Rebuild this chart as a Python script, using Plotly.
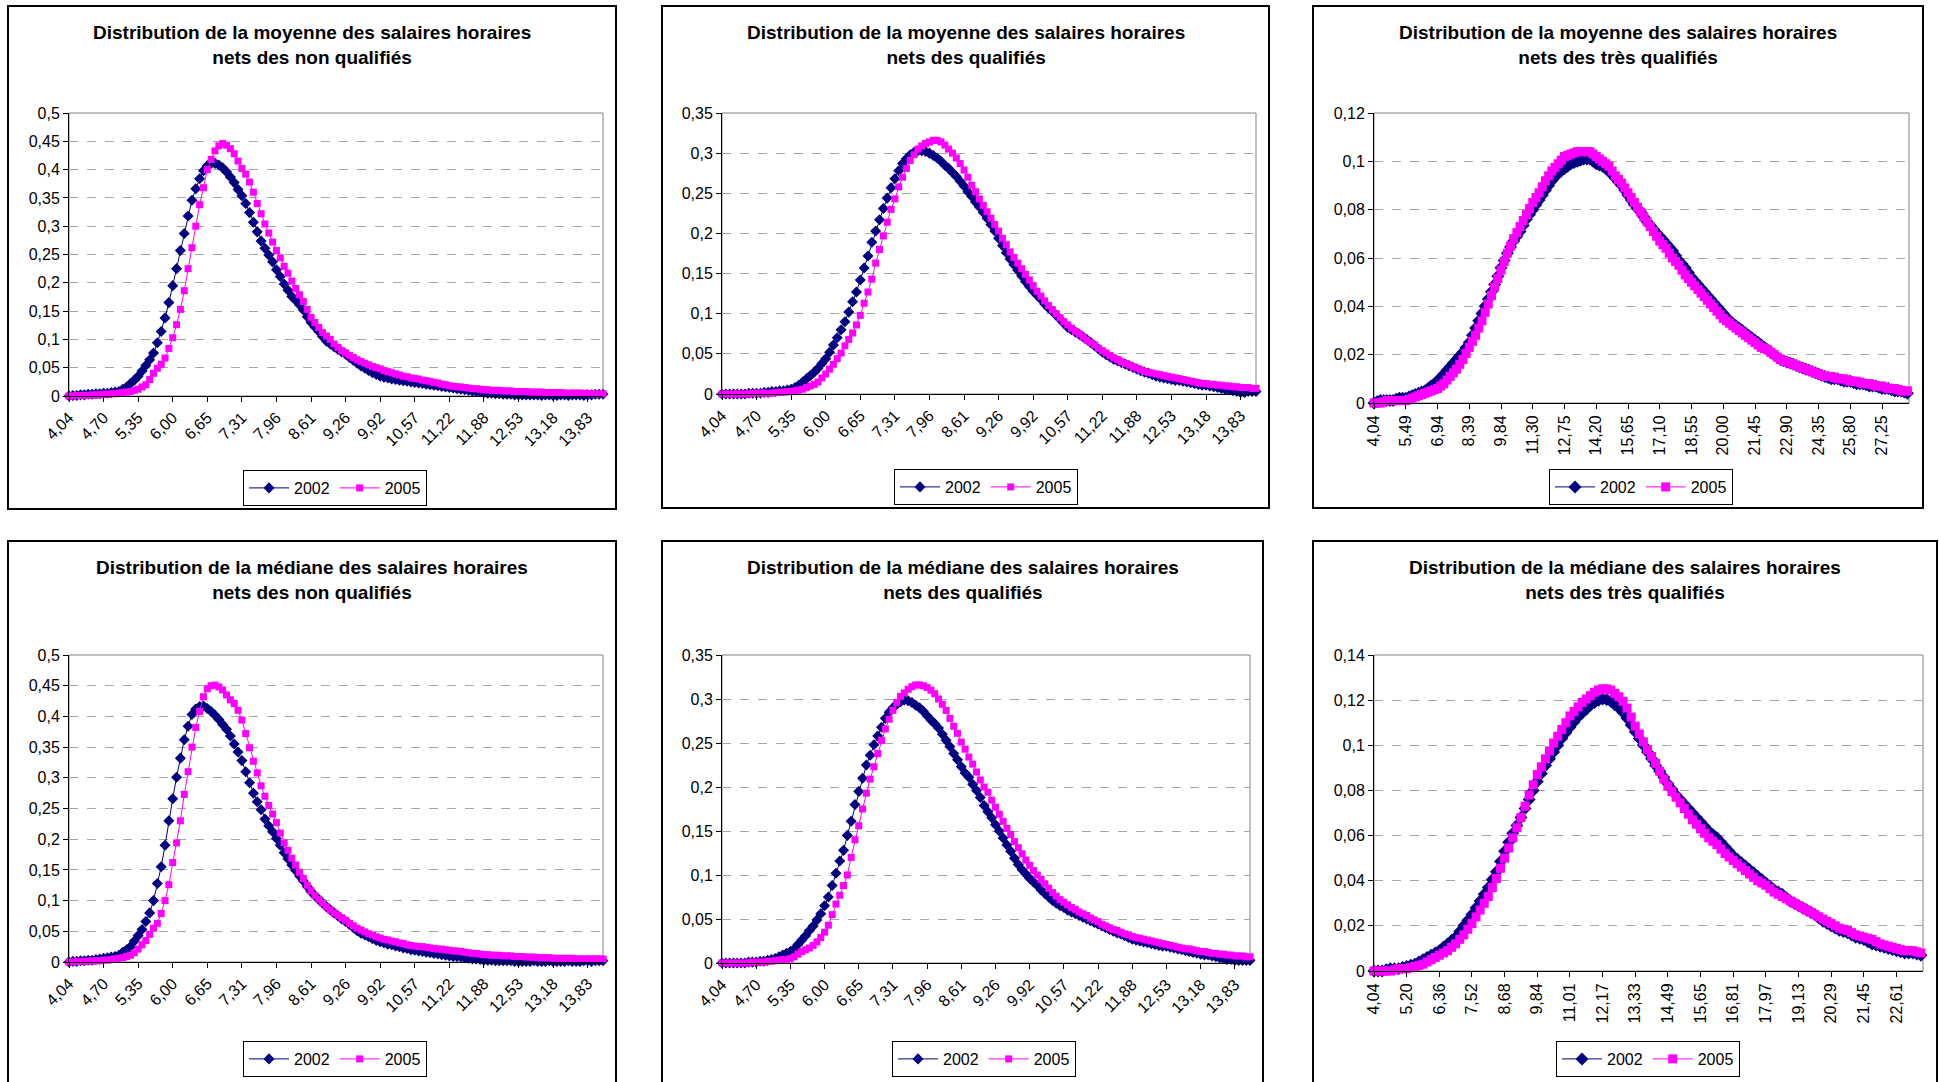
import plotly.graph_objects as go

W, H = 1939, 1082
FONT = "Liberation Sans, Arial, sans-serif"
NAVY = "#000080"
MAGENTA = "#FF00FF"

# ---------------- tick labels (category axis) ----------------
LABELS_A = ["4,04", "4,70", "5,35", "6,00", "6,65", "7,31", "7,96", "8,61", "9,26",
            "9,92", "10,57", "11,22", "11,88", "12,53", "13,18", "13,83"]
LABELS_C1 = ["4,04", "5,49", "6,94", "8,39", "9,84", "11,30", "12,75", "14,20", "15,65",
             "17,10", "18,55", "20,00", "21,45", "22,90", "24,35", "25,80", "27,25"]
LABELS_C2 = ["4,04", "5,20", "6,36", "7,52", "8,68", "9,84", "11,01", "12,17", "13,33",
             "14,49", "15,65", "16,81", "17,97", "19,13", "20,29", "21,45", "22,61"]

# ---------------- series (one value per category) ----------------
MOY_NQ_2002 = [
    0.000, 0.001, 0.001, 0.002, 0.002, 0.003, 0.003, 0.004, 0.004, 0.005,
    0.005, 0.006, 0.007, 0.008, 0.012, 0.016, 0.022, 0.028, 0.035, 0.044,
    0.054, 0.064, 0.076, 0.094, 0.114, 0.138, 0.165, 0.195, 0.225, 0.257,
    0.287, 0.318, 0.346, 0.366, 0.384, 0.398, 0.407, 0.411, 0.411, 0.408,
    0.403, 0.396, 0.387, 0.377, 0.365, 0.354, 0.340, 0.324, 0.307, 0.290,
    0.274, 0.261, 0.249, 0.237, 0.223, 0.211, 0.198, 0.187, 0.176, 0.169,
    0.161, 0.152, 0.140, 0.130, 0.122, 0.114, 0.105, 0.097, 0.092, 0.087,
    0.082, 0.078, 0.074, 0.068, 0.063, 0.058, 0.053, 0.049, 0.045, 0.041,
    0.038, 0.035, 0.033, 0.032, 0.030, 0.029, 0.028, 0.027, 0.026, 0.025,
    0.024, 0.023, 0.022, 0.021, 0.020, 0.019, 0.018, 0.017, 0.016, 0.015,
    0.014, 0.013, 0.012, 0.011, 0.010, 0.009, 0.008, 0.007, 0.006, 0.005,
    0.005, 0.004, 0.004, 0.003, 0.003, 0.003, 0.002, 0.002, 0.002, 0.002,
    0.002, 0.002, 0.002, 0.001, 0.002, 0.002, 0.001, 0.001, 0.002, 0.002,
    0.001, 0.002, 0.002, 0.002, 0.001, 0.002, 0.002, 0.003, 0.003, 0.003]
MOY_NQ_2005 = [
    0.000, 0.000, 0.001, 0.001, 0.001, 0.001, 0.002, 0.002, 0.002, 0.003,
    0.003, 0.004, 0.004, 0.005, 0.006, 0.007, 0.008, 0.010, 0.012, 0.016,
    0.020, 0.029, 0.040, 0.049, 0.056, 0.067, 0.084, 0.103, 0.126, 0.153,
    0.186, 0.225, 0.262, 0.300, 0.338, 0.368, 0.400, 0.418, 0.433, 0.442,
    0.446, 0.443, 0.437, 0.428, 0.415, 0.402, 0.392, 0.378, 0.360, 0.340,
    0.322, 0.304, 0.288, 0.272, 0.257, 0.244, 0.229, 0.217, 0.203, 0.190,
    0.179, 0.167, 0.153, 0.139, 0.130, 0.121, 0.112, 0.106, 0.100, 0.092,
    0.086, 0.080, 0.076, 0.072, 0.068, 0.064, 0.061, 0.058, 0.055, 0.052,
    0.050, 0.048, 0.045, 0.043, 0.041, 0.039, 0.037, 0.035, 0.034, 0.032,
    0.031, 0.030, 0.028, 0.027, 0.026, 0.024, 0.023, 0.021, 0.020, 0.018,
    0.017, 0.016, 0.016, 0.015, 0.014, 0.013, 0.013, 0.012, 0.011, 0.011,
    0.010, 0.010, 0.010, 0.009, 0.009, 0.009, 0.008, 0.008, 0.008, 0.008,
    0.007, 0.007, 0.007, 0.007, 0.006, 0.006, 0.006, 0.006, 0.006, 0.005,
    0.005, 0.005, 0.005, 0.005, 0.005, 0.004, 0.004, 0.004, 0.004, 0.004]

MOY_Q_2002 = [
    0.000, 0.000, 0.000, 0.000, 0.000, 0.000, 0.000, 0.001, 0.001, 0.001,
    0.001, 0.002, 0.002, 0.003, 0.003, 0.004, 0.004, 0.005, 0.006, 0.008,
    0.011, 0.015, 0.019, 0.023, 0.027, 0.032, 0.038, 0.044, 0.052, 0.061,
    0.070, 0.080, 0.090, 0.102, 0.115, 0.127, 0.142, 0.157, 0.172, 0.189,
    0.203, 0.217, 0.231, 0.244, 0.257, 0.268, 0.278, 0.287, 0.293, 0.298,
    0.301, 0.303, 0.303, 0.302, 0.300, 0.297, 0.294, 0.290, 0.285, 0.281,
    0.276, 0.271, 0.265, 0.259, 0.252, 0.246, 0.239, 0.233, 0.226, 0.219,
    0.211, 0.203, 0.194, 0.185, 0.176, 0.168, 0.161, 0.154, 0.147, 0.140,
    0.134, 0.128, 0.123, 0.118, 0.112, 0.107, 0.103, 0.098, 0.093, 0.088,
    0.083, 0.080, 0.077, 0.074, 0.071, 0.068, 0.064, 0.060, 0.056, 0.052,
    0.049, 0.046, 0.043, 0.041, 0.039, 0.037, 0.035, 0.033, 0.031, 0.029,
    0.027, 0.026, 0.024, 0.022, 0.021, 0.020, 0.019, 0.018, 0.017, 0.017,
    0.016, 0.015, 0.014, 0.013, 0.012, 0.011, 0.011, 0.010, 0.009, 0.008,
    0.007, 0.006, 0.005, 0.004, 0.003, 0.002, 0.002, 0.003, 0.003, 0.003]
MOY_Q_2005 = [
    0.000, 0.000, 0.000, 0.000, 0.000, 0.000, 0.000, 0.000, 0.001, 0.001,
    0.001, 0.001, 0.001, 0.001, 0.002, 0.002, 0.002, 0.003, 0.003, 0.004,
    0.005, 0.006, 0.008, 0.010, 0.012, 0.015, 0.020, 0.025, 0.031, 0.037,
    0.044, 0.051, 0.060, 0.068, 0.076, 0.086, 0.098, 0.113, 0.127, 0.143,
    0.163, 0.180, 0.197, 0.214, 0.230, 0.243, 0.258, 0.270, 0.281, 0.291,
    0.298, 0.305, 0.309, 0.312, 0.314, 0.316, 0.316, 0.314, 0.310, 0.305,
    0.300, 0.294, 0.287, 0.279, 0.270, 0.260, 0.252, 0.243, 0.235, 0.227,
    0.219, 0.211, 0.203, 0.194, 0.186, 0.177, 0.170, 0.163, 0.156, 0.149,
    0.142, 0.135, 0.128, 0.122, 0.116, 0.110, 0.105, 0.100, 0.095, 0.090,
    0.086, 0.082, 0.078, 0.075, 0.071, 0.067, 0.064, 0.061, 0.057, 0.054,
    0.051, 0.048, 0.045, 0.043, 0.040, 0.038, 0.036, 0.034, 0.032, 0.030,
    0.028, 0.027, 0.026, 0.025, 0.024, 0.023, 0.022, 0.021, 0.020, 0.019,
    0.018, 0.017, 0.016, 0.015, 0.014, 0.013, 0.013, 0.012, 0.012, 0.011,
    0.011, 0.010, 0.010, 0.009, 0.009, 0.008, 0.008, 0.008, 0.007, 0.007]

# très qualifiés: one value every 2nd category
MOY_TQ_2002 = [
    0.0000, 0.0005, 0.0010, 0.0010, 0.0010, 0.0010, 0.0010, 0.0015, 0.0020, 0.0020,
    0.0020, 0.0025, 0.0030, 0.0035, 0.0040, 0.0045, 0.0050, 0.0060, 0.0070, 0.0080,
    0.0090, 0.0105, 0.0120, 0.0135, 0.0150, 0.0165, 0.0180, 0.0195, 0.0210, 0.0230,
    0.0250, 0.0280, 0.0310, 0.0340, 0.0370, 0.0400, 0.0430, 0.0460, 0.0490, 0.0525,
    0.0560, 0.0590, 0.0620, 0.0645, 0.0670, 0.0690, 0.0710, 0.0735, 0.0760, 0.0780,
    0.0800, 0.0820, 0.0840, 0.0860, 0.0880, 0.0900, 0.0920, 0.0935, 0.0950, 0.0960,
    0.0970, 0.0980, 0.0990, 0.0995, 0.1000, 0.1005, 0.1010, 0.1010, 0.1010, 0.1000,
    0.0990, 0.0985, 0.0980, 0.0970, 0.0960, 0.0945, 0.0930, 0.0915, 0.0900, 0.0880,
    0.0860, 0.0840, 0.0820, 0.0805, 0.0790, 0.0770, 0.0750, 0.0735, 0.0720, 0.0705,
    0.0690, 0.0675, 0.0660, 0.0645, 0.0630, 0.0610, 0.0590, 0.0575, 0.0560, 0.0540,
    0.0520, 0.0505, 0.0490, 0.0475, 0.0460, 0.0445, 0.0430, 0.0415, 0.0400, 0.0385,
    0.0370, 0.0355, 0.0340, 0.0330, 0.0320, 0.0310, 0.0300, 0.0290, 0.0280, 0.0270,
    0.0260, 0.0250, 0.0240, 0.0230, 0.0220, 0.0210, 0.0200, 0.0190, 0.0180, 0.0175,
    0.0170, 0.0165, 0.0160, 0.0155, 0.0150, 0.0145, 0.0140, 0.0135, 0.0130, 0.0125,
    0.0120, 0.0115, 0.0110, 0.0105, 0.0100, 0.0100, 0.0100, 0.0095, 0.0090, 0.0090,
    0.0090, 0.0085, 0.0080, 0.0080, 0.0080, 0.0075, 0.0070, 0.0070, 0.0070, 0.0065,
    0.0060, 0.0060, 0.0060, 0.0055, 0.0050, 0.0050, 0.0050, 0.0045, 0.0040]
MOY_TQ_2005 = [
    0.0000, 0.0000, 0.0000, 0.0005, 0.0010, 0.0010, 0.0010, 0.0010, 0.0010, 0.0010,
    0.0010, 0.0015, 0.0020, 0.0025, 0.0030, 0.0035, 0.0040, 0.0045, 0.0050, 0.0055,
    0.0060, 0.0070, 0.0080, 0.0095, 0.0110, 0.0125, 0.0140, 0.0160, 0.0180, 0.0205,
    0.0230, 0.0255, 0.0280, 0.0310, 0.0340, 0.0375, 0.0410, 0.0445, 0.0480, 0.0515,
    0.0550, 0.0585, 0.0620, 0.0650, 0.0680, 0.0705, 0.0730, 0.0755, 0.0780, 0.0805,
    0.0830, 0.0850, 0.0870, 0.0895, 0.0920, 0.0940, 0.0960, 0.0975, 0.0990, 0.1005,
    0.1020, 0.1025, 0.1030, 0.1035, 0.1040, 0.1040, 0.1040, 0.1040, 0.1040, 0.1030,
    0.1020, 0.1010, 0.1000, 0.0990, 0.0980, 0.0960, 0.0940, 0.0925, 0.0910, 0.0890,
    0.0870, 0.0850, 0.0830, 0.0810, 0.0790, 0.0770, 0.0750, 0.0730, 0.0710, 0.0690,
    0.0670, 0.0655, 0.0640, 0.0620, 0.0600, 0.0585, 0.0570, 0.0550, 0.0530, 0.0515,
    0.0500, 0.0485, 0.0470, 0.0455, 0.0440, 0.0425, 0.0410, 0.0395, 0.0380, 0.0365,
    0.0350, 0.0340, 0.0330, 0.0320, 0.0310, 0.0300, 0.0290, 0.0280, 0.0270, 0.0260,
    0.0250, 0.0240, 0.0230, 0.0225, 0.0220, 0.0210, 0.0200, 0.0190, 0.0180, 0.0175,
    0.0170, 0.0165, 0.0160, 0.0155, 0.0150, 0.0145, 0.0140, 0.0135, 0.0130, 0.0125,
    0.0120, 0.0115, 0.0110, 0.0110, 0.0110, 0.0105, 0.0100, 0.0100, 0.0100, 0.0095,
    0.0090, 0.0090, 0.0090, 0.0085, 0.0080, 0.0080, 0.0080, 0.0075, 0.0070, 0.0070,
    0.0070, 0.0065, 0.0060, 0.0060, 0.0060, 0.0055, 0.0050, 0.0050, 0.0050]

MED_NQ_2002 = [
    0.000, 0.001, 0.001, 0.002, 0.002, 0.003, 0.003, 0.004, 0.005, 0.006,
    0.007, 0.008, 0.009, 0.011, 0.016, 0.020, 0.025, 0.034, 0.043, 0.053,
    0.066, 0.080, 0.100, 0.128, 0.155, 0.190, 0.230, 0.266, 0.301, 0.332,
    0.362, 0.384, 0.403, 0.412, 0.416, 0.417, 0.413, 0.408, 0.402, 0.395,
    0.387, 0.379, 0.368, 0.355, 0.342, 0.328, 0.310, 0.292, 0.275, 0.261,
    0.248, 0.233, 0.222, 0.212, 0.201, 0.190, 0.178, 0.168, 0.158, 0.149,
    0.140, 0.132, 0.123, 0.115, 0.108, 0.102, 0.096, 0.090, 0.085, 0.080,
    0.075, 0.070, 0.066, 0.061, 0.056, 0.051, 0.047, 0.044, 0.041, 0.038,
    0.035, 0.033, 0.031, 0.029, 0.028, 0.026, 0.025, 0.023, 0.022, 0.020,
    0.019, 0.018, 0.017, 0.016, 0.015, 0.014, 0.013, 0.012, 0.011, 0.010,
    0.009, 0.009, 0.008, 0.007, 0.006, 0.005, 0.005, 0.004, 0.003, 0.003,
    0.003, 0.002, 0.002, 0.002, 0.002, 0.002, 0.001, 0.001, 0.001, 0.001,
    0.001, 0.002, 0.001, 0.001, 0.001, 0.002, 0.001, 0.001, 0.001, 0.001,
    0.002, 0.001, 0.001, 0.001, 0.002, 0.002, 0.001, 0.002, 0.002, 0.002]
MED_NQ_2005 = [
    0.000, 0.000, 0.001, 0.001, 0.001, 0.001, 0.002, 0.002, 0.002, 0.003,
    0.003, 0.004, 0.005, 0.006, 0.007, 0.009, 0.011, 0.015, 0.021, 0.028,
    0.035, 0.045, 0.055, 0.063, 0.079, 0.100, 0.126, 0.162, 0.194, 0.230,
    0.273, 0.310, 0.350, 0.382, 0.408, 0.432, 0.445, 0.450, 0.451, 0.448,
    0.443, 0.435, 0.427, 0.421, 0.410, 0.394, 0.372, 0.349, 0.327, 0.308,
    0.287, 0.270, 0.255, 0.241, 0.227, 0.210, 0.194, 0.182, 0.169, 0.158,
    0.146, 0.136, 0.125, 0.116, 0.108, 0.102, 0.096, 0.090, 0.085, 0.080,
    0.076, 0.072, 0.068, 0.063, 0.059, 0.055, 0.052, 0.049, 0.046, 0.044,
    0.041, 0.039, 0.037, 0.036, 0.034, 0.033, 0.031, 0.030, 0.028, 0.027,
    0.026, 0.025, 0.025, 0.024, 0.023, 0.022, 0.021, 0.021, 0.020, 0.019,
    0.018, 0.018, 0.017, 0.016, 0.015, 0.014, 0.014, 0.013, 0.012, 0.012,
    0.011, 0.011, 0.011, 0.010, 0.010, 0.010, 0.009, 0.009, 0.009, 0.008,
    0.008, 0.008, 0.007, 0.007, 0.007, 0.007, 0.006, 0.006, 0.006, 0.006,
    0.006, 0.006, 0.005, 0.005, 0.005, 0.005, 0.005, 0.005, 0.005, 0.005]

MED_Q_2002 = [
    0.000, 0.000, 0.000, 0.000, 0.000, 0.000, 0.000, 0.001, 0.001, 0.001,
    0.002, 0.002, 0.003, 0.004, 0.005, 0.007, 0.009, 0.011, 0.013, 0.016,
    0.021, 0.026, 0.031, 0.037, 0.042, 0.049, 0.056, 0.065, 0.075, 0.088,
    0.102, 0.116, 0.128, 0.145, 0.161, 0.180, 0.195, 0.210, 0.225, 0.236,
    0.248, 0.258, 0.268, 0.278, 0.285, 0.290, 0.294, 0.297, 0.299, 0.298,
    0.296, 0.293, 0.290, 0.286, 0.281, 0.276, 0.272, 0.267, 0.260, 0.253,
    0.246, 0.238, 0.231, 0.223, 0.216, 0.211, 0.203, 0.196, 0.188, 0.179,
    0.172, 0.165, 0.157, 0.150, 0.142, 0.134, 0.127, 0.119, 0.112, 0.106,
    0.101, 0.096, 0.092, 0.088, 0.083, 0.079, 0.075, 0.071, 0.068, 0.065,
    0.063, 0.060, 0.058, 0.056, 0.054, 0.052, 0.050, 0.048, 0.046, 0.044,
    0.042, 0.040, 0.038, 0.036, 0.034, 0.033, 0.031, 0.029, 0.027, 0.026,
    0.025, 0.024, 0.023, 0.022, 0.021, 0.020, 0.019, 0.019, 0.018, 0.017,
    0.016, 0.015, 0.014, 0.013, 0.012, 0.011, 0.010, 0.009, 0.009, 0.008,
    0.007, 0.006, 0.005, 0.004, 0.004, 0.003, 0.003, 0.003, 0.003, 0.003]
MED_Q_2005 = [
    0.000, 0.000, 0.000, 0.000, 0.000, 0.000, 0.000, 0.000, 0.001, 0.001,
    0.001, 0.001, 0.002, 0.002, 0.003, 0.003, 0.004, 0.004, 0.005, 0.007,
    0.010, 0.013, 0.015, 0.017, 0.020, 0.024, 0.029, 0.035, 0.043, 0.055,
    0.067, 0.077, 0.088, 0.100, 0.120, 0.140, 0.156, 0.175, 0.193, 0.209,
    0.223, 0.238, 0.253, 0.266, 0.277, 0.287, 0.296, 0.303, 0.307, 0.311,
    0.314, 0.316, 0.316, 0.315, 0.313, 0.310, 0.306, 0.300, 0.294, 0.287,
    0.278, 0.269, 0.261, 0.251, 0.243, 0.234, 0.226, 0.217, 0.208, 0.200,
    0.194, 0.185, 0.177, 0.169, 0.161, 0.153, 0.146, 0.138, 0.131, 0.124,
    0.117, 0.111, 0.105, 0.100, 0.095, 0.090, 0.085, 0.080, 0.076, 0.072,
    0.069, 0.066, 0.063, 0.061, 0.058, 0.056, 0.054, 0.051, 0.049, 0.047,
    0.044, 0.042, 0.040, 0.038, 0.037, 0.035, 0.033, 0.032, 0.030, 0.029,
    0.028, 0.027, 0.026, 0.025, 0.024, 0.023, 0.022, 0.021, 0.020, 0.019,
    0.018, 0.017, 0.016, 0.016, 0.015, 0.014, 0.013, 0.013, 0.012, 0.011,
    0.011, 0.010, 0.010, 0.009, 0.009, 0.008, 0.008, 0.008, 0.007, 0.007]

MED_TQ_2002 = [
    0.0000, 0.0000, 0.0000, 0.0005, 0.0010, 0.0010, 0.0010, 0.0015, 0.0020, 0.0025,
    0.0030, 0.0040, 0.0050, 0.0060, 0.0070, 0.0080, 0.0090, 0.0105, 0.0120, 0.0135,
    0.0150, 0.0175, 0.0200, 0.0225, 0.0250, 0.0280, 0.0310, 0.0340, 0.0370, 0.0405,
    0.0440, 0.0485, 0.0530, 0.0570, 0.0610, 0.0645, 0.0680, 0.0720, 0.0760, 0.0800,
    0.0840, 0.0875, 0.0910, 0.0940, 0.0970, 0.1000, 0.1030, 0.1055, 0.1080, 0.1103,
    0.1125, 0.1143, 0.1160, 0.1177, 0.1190, 0.1200, 0.1205, 0.1203, 0.1195, 0.1180,
    0.1165, 0.1145, 0.1120, 0.1090, 0.1060, 0.1030, 0.1000, 0.0970, 0.0940, 0.0910,
    0.0885, 0.0858, 0.0830, 0.0805, 0.0780, 0.0760, 0.0740, 0.0720, 0.0700, 0.0680,
    0.0660, 0.0640, 0.0620, 0.0605, 0.0590, 0.0570, 0.0550, 0.0530, 0.0510, 0.0495,
    0.0480, 0.0465, 0.0450, 0.0435, 0.0420, 0.0405, 0.0390, 0.0375, 0.0360, 0.0350,
    0.0340, 0.0325, 0.0310, 0.0300, 0.0290, 0.0280, 0.0270, 0.0260, 0.0250, 0.0235,
    0.0220, 0.0210, 0.0200, 0.0190, 0.0180, 0.0175, 0.0170, 0.0160, 0.0150, 0.0145,
    0.0140, 0.0130, 0.0120, 0.0115, 0.0110, 0.0105, 0.0100, 0.0095, 0.0090, 0.0085,
    0.0080, 0.0080, 0.0080, 0.0075, 0.0070]
MED_TQ_2005 = [
    0.0000, 0.0000, 0.0000, 0.0000, 0.0000, 0.0005, 0.0010, 0.0010, 0.0010, 0.0015,
    0.0020, 0.0025, 0.0030, 0.0040, 0.0050, 0.0060, 0.0070, 0.0080, 0.0090, 0.0105,
    0.0120, 0.0140, 0.0160, 0.0185, 0.0210, 0.0240, 0.0270, 0.0300, 0.0330, 0.0370,
    0.0410, 0.0455, 0.0500, 0.0545, 0.0590, 0.0635, 0.0680, 0.0730, 0.0780, 0.0825,
    0.0870, 0.0905, 0.0940, 0.0975, 0.1010, 0.1040, 0.1070, 0.1100, 0.1130, 0.1150,
    0.1170, 0.1190, 0.1205, 0.1220, 0.1235, 0.1245, 0.1250, 0.1250, 0.1245, 0.1230,
    0.1215, 0.1195, 0.1165, 0.1125, 0.1085, 0.1050, 0.1015, 0.0980, 0.0950, 0.0920,
    0.0885, 0.0850, 0.0820, 0.0795, 0.0770, 0.0745, 0.0720, 0.0695, 0.0670, 0.0650,
    0.0630, 0.0610, 0.0590, 0.0575, 0.0560, 0.0540, 0.0520, 0.0505, 0.0490, 0.0475,
    0.0460, 0.0445, 0.0430, 0.0415, 0.0400, 0.0390, 0.0380, 0.0365, 0.0350, 0.0340,
    0.0330, 0.0320, 0.0310, 0.0300, 0.0290, 0.0280, 0.0270, 0.0260, 0.0250, 0.0240,
    0.0230, 0.0220, 0.0210, 0.0200, 0.0190, 0.0185, 0.0180, 0.0170, 0.0160, 0.0155,
    0.0150, 0.0145, 0.0140, 0.0130, 0.0120, 0.0115, 0.0110, 0.0105, 0.0100, 0.0095,
    0.0090, 0.0090, 0.0090, 0.0085, 0.0080]

TITLES = [
    "Distribution de la moyenne des salaires horaires<br>nets des non qualifiés",
    "Distribution de la moyenne des salaires horaires<br>nets des qualifiés",
    "Distribution de la moyenne des salaires horaires<br>nets des très qualifiés",
    "Distribution de la médiane des salaires horaires<br>nets des non qualifiés",
    "Distribution de la médiane des salaires horaires<br>nets des qualifiés",
    "Distribution de la médiane des salaires horaires<br>nets des très qualifiés",
]
YEARS = ["2002", "2005"]

# ---------------- panel layout (pixels) ----------------
panels = [
    dict(y=(MOY_NQ_2002, MOY_NQ_2005), labels=LABELS_A, every=9, ncat=140, step=1,
         ymax=0.5, dtick=0.05, angle=-45, plot=(69, 113, 603, 396),
         box=(8, 6, 616, 509), title_y=45, leg=(335, 488), ms=(8.5, 7)),
    dict(y=(MOY_Q_2002, MOY_Q_2005), labels=LABELS_A, every=9, ncat=140, step=1,
         ymax=0.35, dtick=0.05, angle=-45, plot=(722, 113, 1256, 394),
         box=(662, 6, 1269, 508), title_y=45, leg=(986, 487), ms=(8.5, 7)),
    dict(y=(MOY_TQ_2002, MOY_TQ_2005), labels=LABELS_C1, every=20, ncat=338, step=2,
         ymax=0.12, dtick=0.02, angle=-90, plot=(1374, 113, 1909, 403),
         box=(1313, 6, 1923, 508), title_y=45, leg=(1641, 487), ms=(10, 9)),
    dict(y=(MED_NQ_2002, MED_NQ_2005), labels=LABELS_A, every=9, ncat=140, step=1,
         ymax=0.5, dtick=0.05, angle=-45, plot=(69, 655, 603, 962),
         box=(8, 541, 616, 1100), title_y=580, leg=(335, 1059), ms=(8.5, 7)),
    dict(y=(MED_Q_2002, MED_Q_2005), labels=LABELS_A, every=9, ncat=140, step=1,
         ymax=0.35, dtick=0.05, angle=-45, plot=(722, 655, 1250, 963),
         box=(662, 541, 1263, 1100), title_y=580, leg=(984, 1059), ms=(8.5, 7)),
    dict(y=(MED_TQ_2002, MED_TQ_2005), labels=LABELS_C2, every=16, ncat=270, step=2,
         ymax=0.14, dtick=0.02, angle=-90, plot=(1374, 655, 1923, 971),
         box=(1313, 541, 1937, 1100), title_y=580, leg=(1648, 1059), ms=(10, 9)),
]


def fx(px):
    return px / W


def fy(py):
    return 1 - py / H


def fmt(v):
    return f"{round(v, 2):g}".replace(".", ",")


fig = go.Figure()
shapes, annotations = [], []
layout = dict(
    template="none",
    width=W, height=H, margin=dict(l=0, r=0, t=0, b=0, pad=0), autosize=False,
    paper_bgcolor="white", plot_bgcolor="white",
    font=dict(family=FONT, color="black", size=16),
)

styles = [
    dict(color=NAVY, symbol="diamond"),
    dict(color=MAGENTA, symbol="square"),
]

for k, p in enumerate(panels, start=1):
    sx = "" if k == 1 else str(k)
    legname = "legend" if k == 1 else f"legend{k}"
    for j, (series, st) in enumerate(zip(p["y"], styles)):
        xs = [i * p["step"] for i in range(len(series))]
        fig.add_trace(go.Scatter(
            x=xs, y=series, name=YEARS[j], mode="lines+markers",
            line=dict(color=st["color"], width=1),
            marker=dict(symbol=st["symbol"], size=p["ms"][j], color=st["color"],
                        line=dict(width=0)),
            cliponaxis=False, xaxis=f"x{sx}", yaxis=f"y{sx}",
            legend=legname, showlegend=True, hoverinfo="x+y",
        ))
    l, t, r, b = p["plot"]
    yt = [round(i * p["dtick"], 4) for i in range(int(round(p["ymax"] / p["dtick"])) + 1)]
    layout[f"xaxis{sx}"] = dict(
        domain=[fx(l), fx(r)], anchor=f"y{sx}", range=[0, p["ncat"] - 1],
        tickmode="array", tickvals=[i * p["every"] for i in range(len(p["labels"]))],
        ticktext=p["labels"], tickangle=p["angle"], ticks="outside", ticklen=5,
        tickcolor="black", showline=True, linecolor="black", linewidth=1,
        showgrid=False, zeroline=False, automargin=False,
        tickfont=dict(size=16, family=FONT, color="black"), fixedrange=True,
    )
    layout[f"yaxis{sx}"] = dict(
        domain=[fy(b), fy(t)], anchor=f"x{sx}", range=[0, p["ymax"]],
        tickmode="array", tickvals=yt, ticktext=[fmt(v) for v in yt],
        ticks="outside", ticklen=5, tickcolor="black", showline=True,
        linecolor="black", linewidth=1, showgrid=True, gridcolor="#A6A6A6",
        griddash="dash", gridwidth=1, zeroline=False, automargin=False,
        tickfont=dict(size=16, family=FONT, color="black"), fixedrange=True,
    )
    # plot-area border (grey)
    shapes.append(dict(type="rect", xref=f"x{sx} domain", yref=f"y{sx} domain",
                       x0=0, x1=1, y0=0, y1=1, line=dict(color="#808080", width=1),
                       layer="below"))
    # chart-area frame (black)
    bl, bt, br, bb = p["box"]
    shapes.append(dict(type="rect", xref="paper", yref="paper",
                       x0=fx(bl), x1=fx(br), y0=fy(bb), y1=fy(bt),
                       line=dict(color="black", width=2)))
    annotations.append(dict(
        text=f"<b>{TITLES[k - 1]}</b>", xref="paper", yref="paper",
        x=fx((bl + br) / 2), y=fy(p["title_y"]), xanchor="center", yanchor="middle",
        showarrow=False, font=dict(size=19, family=FONT, color="black"),
        align="center",
    ))
    layout[legname] = dict(
        x=fx(p["leg"][0]), y=fy(p["leg"][1]), xanchor="center", yanchor="middle",
        orientation="h", bordercolor="black", borderwidth=1, bgcolor="white",
        font=dict(size=16, family=FONT, color="black"), itemwidth=40, tracegroupgap=0,
    )

layout["shapes"] = shapes
layout["annotations"] = annotations
fig.update_layout(**layout)

fig.write_html("out.html", include_plotlyjs=True,
               post_script="document.body.style.margin='0';document.body.style.overflow='hidden';",
               config={"displayModeBar": False})
